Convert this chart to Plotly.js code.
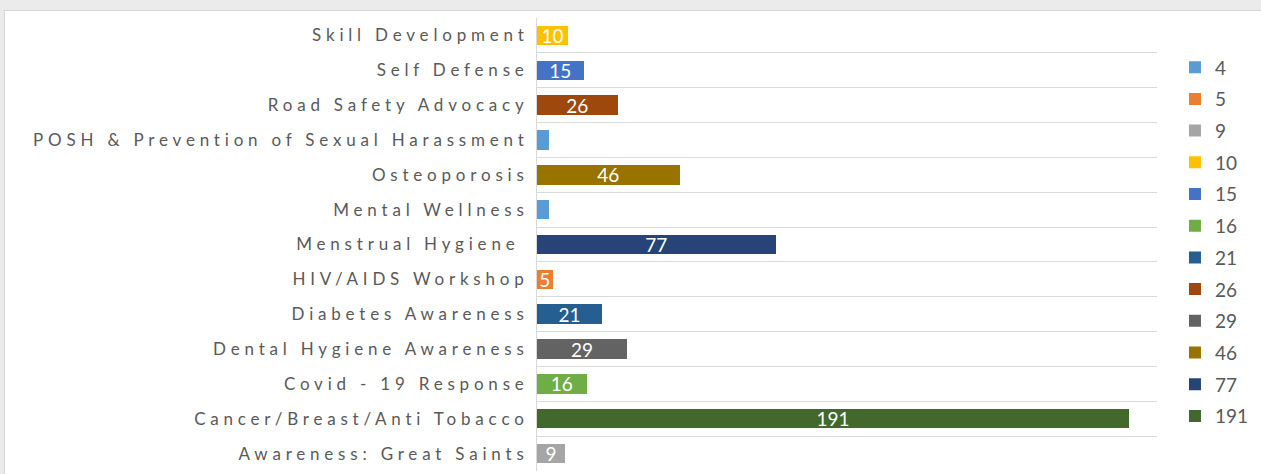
<!DOCTYPE html>
<html>
<head>
<meta charset="utf-8">
<script src="https://cdn.plot.ly/plotly-3.0.1.min.js"></script>
<style>
  html, body { margin: 0; padding: 0; background: #ebebeb; width: 1261px; height: 474px; overflow: hidden; }
  #frame { position: absolute; left: 4px; top: 10px; width: 1256px; height: 463px; background: #ffffff; border: 1px solid #d6d6d6; }
  #chart { width: 1256px; height: 463px; }
  #chart .ytick text { letter-spacing: 4.8px; }
</style>
</head>
<body>
<div id="frame"><div id="chart"></div></div>
<script>
// Categories listed bottom to top
const categories = [
  "Awareness: Great Saints",
  "Cancer/Breast/Anti Tobacco",
  "Covid - 19 Response",
  "Dental Hygiene Awareness",
  "Diabetes Awareness",
  "HIV/AIDS Workshop",
  "Menstrual Hygiene\u00a0",
  "Mental Wellness",
  "Osteoporosis",
  "POSH & Prevention of Sexual Harassment",
  "Road Safety Advocacy",
  "Self Defense",
  "Skill Development"
];
const values = [9, 191, 16, 29, 21, 5, 77, 4, 46, 4, 26, 15, 10];

// Legend series (one per distinct value) and their colours
const seriesValues = [4, 5, 9, 10, 15, 16, 21, 26, 29, 46, 77, 191];
const seriesColors = ["#5B9BD5", "#ED7D31", "#A5A5A5", "#FFC000", "#4472C4", "#70AD47",
                      "#255E91", "#9E480E", "#636363", "#997300", "#264478", "#43682B"];
// Values whose data labels are not shown in the source
const hiddenLabelValues = [4];

const traces = seriesValues.map((v, i) => {
  const ys = [], xs = [];
  categories.forEach((c, j) => { if (values[j] === v) { ys.push(c); xs.push(values[j]); } });
  return {
    type: "bar",
    orientation: "h",
    name: String(v),
    legendgroup: "g" + v,
    x: xs,
    y: ys,
    width: 0.56,
    marker: { color: seriesColors[i] },
    text: hiddenLabelValues.includes(v) ? xs.map(() => "") : xs.map(String),
    textposition: "inside",
    insidetextanchor: "middle",
    textangle: 0,
    constraintext: "none",
    textfont: { family: "Lato, sans-serif", size: 19, color: "#ffffff" },
    hoverinfo: "y+x"
  };
});

const layout = {
  width: 1256,
  height: 463,
  margin: { l: 532, r: 104, t: 7, b: 3, pad: 0 },
  paper_bgcolor: "#ffffff",
  plot_bgcolor: "#ffffff",
  barmode: "stack",
  showlegend: true,
  legend: {
    x: 1.029, xanchor: "left",
    y: 0.933, yanchor: "top",
    traceorder: "grouped",
    tracegroupgap: 4,
    font: { family: "Lato, sans-serif", size: 19, color: "#595959" },
    itemwidth: 30,
    bgcolor: "rgba(0,0,0,0)"
  },
  xaxis: {
    range: [0, 200],
    showticklabels: false,
    showgrid: false,
    zeroline: false,
    showline: false,
    fixedrange: true
  },
  yaxis: {
    type: "category",
    categoryorder: "array",
    categoryarray: categories,
    tickson: "boundaries",
    ticks: "",
    showgrid: true,
    gridcolor: "#d9d9d9",
    gridwidth: 1,
    showline: true,
    linecolor: "#d9d9d9",
    linewidth: 1,
    ticklabelstandoff: 4,
    tickfont: { family: "Lato, sans-serif", size: 17, color: "#595959" },
    automargin: false,
    fixedrange: true
  }
};

Plotly.newPlot("chart", traces, layout, { displayModeBar: false, staticPlot: true });
</script>
</body>
</html>
